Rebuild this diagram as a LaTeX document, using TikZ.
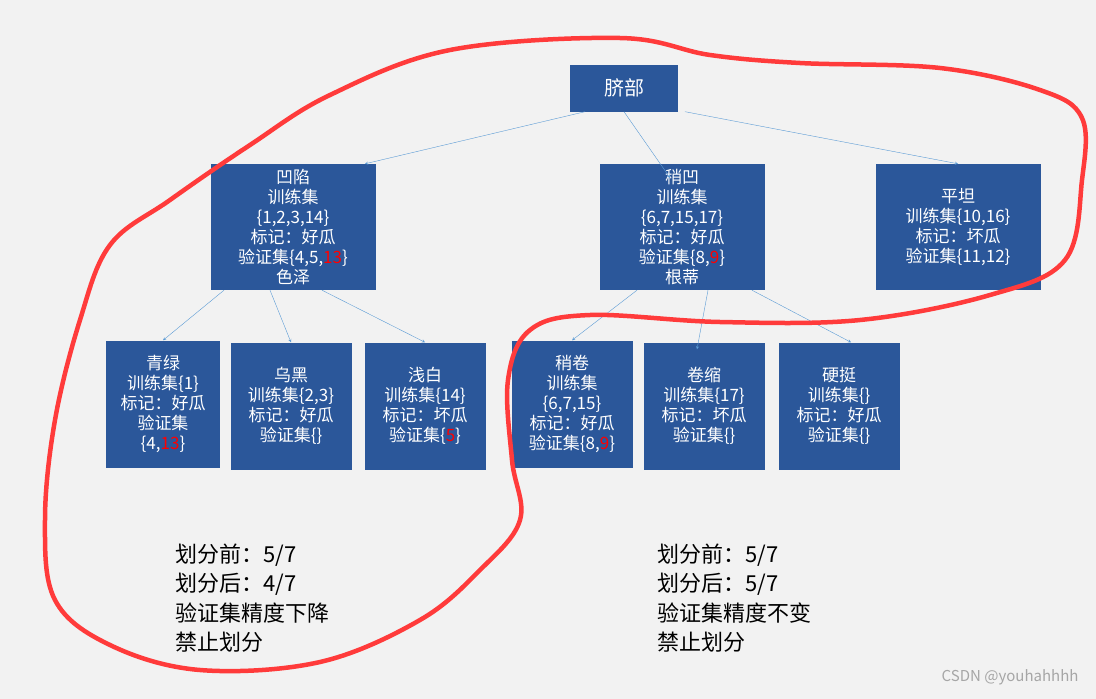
\documentclass[tikz,border=0pt]{standalone}
\usepackage{fontspec}
\setmainfont{Noto Sans CJK SC}
\usetikzlibrary{positioning}
\definecolor{boxblue}{HTML}{2B579A}
\definecolor{linkblue}{HTML}{5B9BD5}
\definecolor{penred}{HTML}{FF3B3B}
\begin{document}
\begin{tikzpicture}
  [x=1pt,y=-1pt,
 term/.style={
  rectangle,
 fill=boxblue,
 text=white,
  inner sep=0pt,
  align=center,
 font=\fontsize{17}{20}\selectfont},
 tip/.style={->,draw=linkblue,thin,>=stealth}]
\fill[gray!10] (0,0) rectangle (1096,699);
\useasboundingbox (0,0) rectangle (1096,699);
\node (qibu) [term,minimum width=108pt,minimum height=47pt,font=\fontsize{20}{22}\selectfont] at (624,88) {脐部};
\node (aoxian) [term,minimum width=165pt,minimum height=126pt] at (293,227) {凹陷\\训练集\\\{1,2,3,14\}\\标记：好瓜\\验证集\{4,5,\textcolor{red}{13}\}\\色泽};
\node (shaoao) [term,minimum width=165pt,minimum height=126pt] at (682,227) {稍凹\\训练集\\\{6,7,15,17\}\\标记：好瓜\\验证集\{8,\textcolor{red}{9}\}\\根蒂};
\node (pingtan) [term,minimum width=165pt,minimum height=126pt] at (958,227) {平坦\\训练集\{10,16\}\\标记：坏瓜\\验证集\{11,12\}};
\node (qinglv) [term,minimum width=114pt,minimum height=127pt] at (163,404) {青绿\\训练集\{1\}\\标记：好瓜\\验证集\\\{4,\textcolor{red}{13}\}};
\node (wuhei) [term,minimum width=121pt,minimum height=127pt] at (291,406) {乌黑\\训练集\{2,3\}\\标记：好瓜\\验证集\{\}};
\node (qianbai) [term,minimum width=121pt,minimum height=127pt] at (425,406) {浅白\\训练集\{14\}\\标记：坏瓜\\验证集\{\textcolor{red}{5}\}};
\node (shaojuan) [term,minimum width=121pt,minimum height=127pt] at (572,404) {稍卷\\训练集\\\{6,7,15\}\\标记：好瓜\\验证集\{8,\textcolor{red}{9}\}};
\node (juansuo) [term,minimum width=121pt,minimum height=127pt] at (704,406) {卷缩\\训练集\{17\}\\标记：坏瓜\\验证集\{\}};
\node (yingting) [term,minimum width=121pt,minimum height=127pt] at (839,406) {硬挺\\训练集\{\}\\标记：好瓜\\验证集\{\}};
\draw[tip] ([xshift=-39pt]qibu.south) -- ([xshift=72pt]aoxian.north);
\draw[tip] (qibu.south) -- ([xshift=-12pt,yshift=-14pt]shaoao.north);
\draw[tip] ([xshift=61pt]qibu.south) -- (pingtan.north);
\draw[tip] ([xshift=-69pt]aoxian.south) -- (qinglv.north);
\draw[tip] ([xshift=-23pt]aoxian.south) -- (wuhei.north);
\draw[tip] ([xshift=29pt]aoxian.south) -- (qianbai.north);
\draw[tip] ([xshift=-45pt]shaoao.south) -- (shaojuan.north);
\draw[tip] ([xshift=26pt]shaoao.south) -- ([xshift=-7pt,yshift=-7pt]juansuo.north);
\draw[tip] ([xshift=70pt]shaoao.south) -- ([xshift=12pt]yingting.north);
% hand-drawn loop
\draw[penred,line width=4.5pt,line join=round] plot[smooth cycle,tension=0.6] coordinates {
 (620,38) (450,50) (330,95) (250,145) (170,200) (110,245) (80,320) (55,420)
 (45,520) (55,600) (110,645) (200,670) (320,662) (420,620) (480,570) (520,520)
 (512,460) (508,380) (530,330) (590,315) (720,322) (860,320) (990,295)
 (1065,260) (1082,180) (1082,118) (1040,90) (940,68) (800,63) (710,55)};
\node (leftnote) [anchor=north west,align=left,font=\fontsize{22}{29.5}\selectfont] at (172,540) {划分前：5/7\\划分后：4/7\\验证集精度下降\\禁止划分};
\node (rightnote) [anchor=north west,align=left,font=\fontsize{22}{29.5}\selectfont] at (654,540) {划分前：5/7\\划分后：5/7\\验证集精度不变\\禁止划分};
\node (mark) [anchor=east,text=gray!70,font=\fontsize{15}{17}\selectfont] at (1082,677) {CSDN @youhahhhh};
\end{tikzpicture}
\end{document}
